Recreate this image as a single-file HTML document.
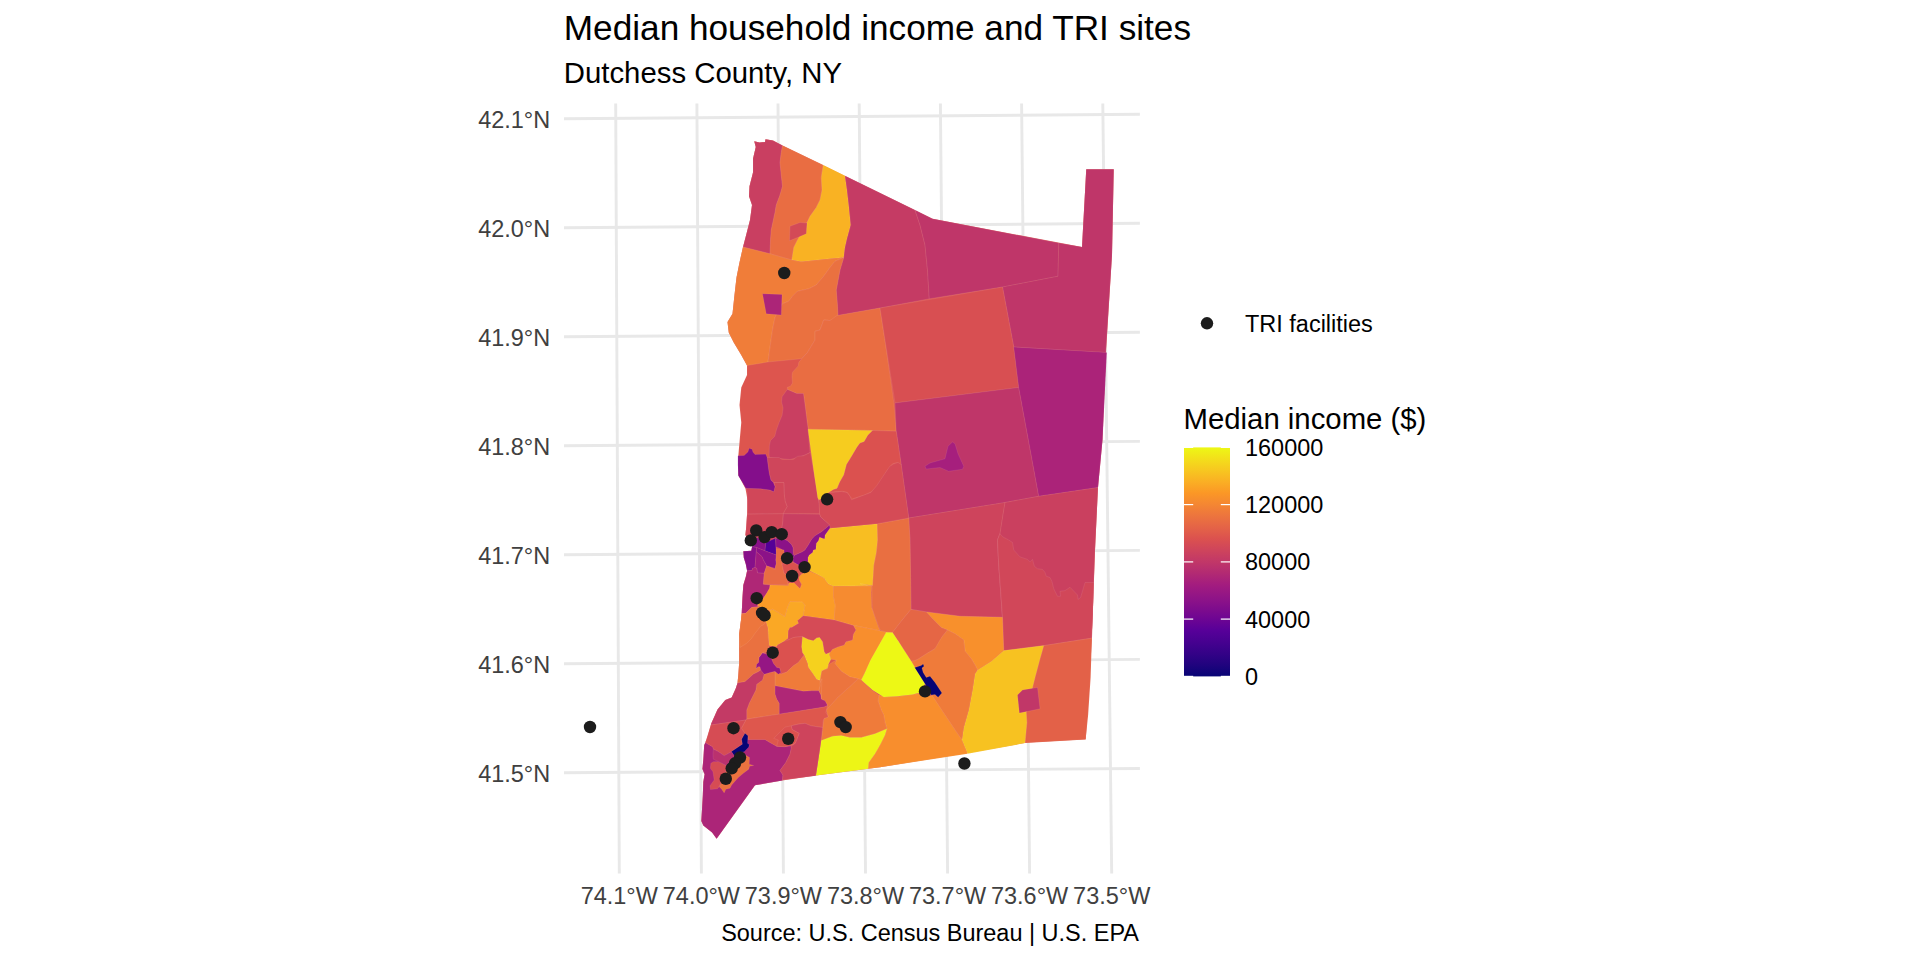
<!DOCTYPE html>
<html lang="en"><head><meta charset="utf-8"><title>Median household income and TRI sites</title>
<style>
html,body{margin:0;padding:0;background:#fff;}
body{width:1920px;height:960px;overflow:hidden;}
svg{display:block;font-family:"Liberation Sans",Arial,Helvetica,sans-serif;}
.ax{font-size:23.47px;fill:#404040;}
.lg{font-size:23.47px;fill:#000;}
.grid line,.grid path{stroke:#e8e8e8;stroke-width:2.9;fill:none;}
.tr polygon{stroke:#fff;stroke-opacity:.11;stroke-width:.7;stroke-linejoin:round;}
.pt circle{fill:#1c1c1c;}
</style></head><body>
<svg width="1920" height="960" viewBox="0 0 1920 960">
<rect width="1920" height="960" fill="#fff"/>
<text x="563.8" y="39.7" font-size="35.2" fill="#000">Median household income and TRI sites</text>
<text x="563.8" y="82.9" font-size="29.33" fill="#000">Dutchess County, NY</text>
<g class="grid">
<path d="M564.0 118.75Q852.0 117.70 1139.9 114.25"/>
<path d="M564.0 227.74Q852.0 226.71 1139.9 223.28"/>
<path d="M564.0 336.73Q852.0 335.72 1139.9 332.31"/>
<path d="M564.0 445.72Q852.0 444.73 1139.9 441.34"/>
<path d="M564.0 554.71Q852.0 553.74 1139.9 550.37"/>
<path d="M564.0 663.70Q852.0 662.75 1139.9 659.40"/>
<path d="M564.0 772.69Q852.0 771.76 1139.9 768.43"/>
<line x1="615.7" y1="103.5" x2="619.3" y2="873.6"/>
<line x1="696.9" y1="103.5" x2="701.4" y2="873.6"/>
<line x1="778.0" y1="103.5" x2="783.4" y2="873.6"/>
<line x1="859.2" y1="103.5" x2="865.5" y2="873.6"/>
<line x1="940.4" y1="103.5" x2="947.6" y2="873.6"/>
<line x1="1021.6" y1="103.5" x2="1029.6" y2="873.6"/>
<line x1="1102.8" y1="103.5" x2="1111.7" y2="873.6"/>
</g>
<g class="ax" text-anchor="end">
<text x="550.2" y="128.0">42.1°N</text>
<text x="550.2" y="236.9">42.0°N</text>
<text x="550.2" y="345.9">41.9°N</text>
<text x="550.2" y="454.9">41.8°N</text>
<text x="550.2" y="563.9">41.7°N</text>
<text x="550.2" y="672.9">41.6°N</text>
<text x="550.2" y="781.9">41.5°N</text>
</g>
<g class="ax" text-anchor="middle">
<text x="619.3" y="903.8">74.1°W</text>
<text x="701.4" y="903.8">74.0°W</text>
<text x="783.4" y="903.8">73.9°W</text>
<text x="865.5" y="903.8">73.8°W</text>
<text x="947.6" y="903.8">73.7°W</text>
<text x="1029.6" y="903.8">73.6°W</text>
<text x="1111.7" y="903.8">73.5°W</text>
</g>
<g class="tr">
<polygon fill="#dd554e" points="754.25,141.25 759.5,142.5 765,142 765.5,139.25 773,140.5 782.5,145.5 932.5,218.75 1082,247 1086.25,169.25 1113.75,169.25 1112,255 1106,352.5 1102.5,440 1098,487.5 1095,550 1092,637.5 1085.75,739.25 1027.5,742.5 967.5,753 880,767.2 816,775.5 782.3,780.5 755,785.2 716.6,838.8 712.1,832.6 703.3,825.5 701.3,821.1 702,809.6 702.8,795.4 703.3,782.1 704.6,774.2 702.4,768.9 703.3,760 704.2,745.3 707.3,737.5 711.25,723.4 717.5,709.4 725.3,700 731.7,697.5 735.8,688.3 737.5,682.9 738.3,675 739.2,662.5 739.2,650 739.2,634.2 740.8,621.7 741.7,613.75 742.5,596.7 743.3,585 745.8,576.7 747.1,570.8 745.8,564.2 743.75,557.5 743.3,551.25 751.25,550.8 752.1,546.7 751.25,543.3 747.9,540.4 745.4,535 746.25,526.7 747,515 747.5,500 745.5,488.75 738.25,475 738.25,456.25 739.25,445 741.25,422.5 739.5,405 741.25,387.5 747,375 747,365.5 741.25,355 733.75,342.5 728.75,332.5 727.5,322 732.5,313.75 734.5,295 736.5,277.5 739.5,262.5 743,247 745.5,237.5 750,220 752,205 749,196.25 749.5,186.25 753,172.5 753,158.75 755.75,147"/>
<polygon fill="#c93f61" points="754.25,141.25 759.50,142.50 765.00,142.00 765.50,139.25 773.00,140.50 782.50,145.50 781.25,152.50 780.00,162.50 781.25,175.00 782.50,186.25 780.00,195.00 776.25,205.00 775.00,212.50 771.25,230.00 770.50,240.00 770.00,253.75 743.00,247.00 745.50,237.50 750.00,220.00 752.00,205.00 749.00,196.25 749.50,186.25 753.00,172.50 753.00,158.75 755.75,147.00"/>
<polygon fill="#e96d42" points="782.50,145.50 823.25,165.00 821.25,177.50 822.00,190.00 820.00,200.00 816.25,207.50 810.00,216.25 807.00,222.50 797.50,240.00 793.75,247.50 791.75,260.00 770.00,253.75 770.50,240.00 771.25,230.00 775.00,212.50 776.25,205.00 780.00,195.00 782.50,186.25 781.25,175.00 780.00,162.50 781.25,152.50"/>
<polygon fill="#f9b223" points="823.25,165.00 845.00,175.75 847.00,190.00 848.75,205.00 850.75,225.00 847.00,238.75 845.00,247.50 843.75,257.50 830.00,258.75 801.25,261.75 791.75,260.00 793.75,247.50 797.50,240.00 807.00,222.50 810.00,216.25 816.25,207.50 820.00,200.00 822.00,190.00 821.25,177.50"/>
<polygon fill="#d34a57" points="790.00,226.25 800.00,222.50 807.00,223.00 806.25,233.75 797.50,237.50 789.50,240.75"/>
<polygon fill="#c53b64" points="845.00,175.75 915.00,210.00 920.00,225.00 925.00,245.00 927.50,270.00 928.75,290.00 929.25,298.75 880.00,308.00 838.00,315.50 836.25,290.00 840.00,270.00 843.75,257.50 845.00,247.50 847.00,238.75 850.75,225.00 848.75,205.00 847.00,190.00"/>
<polygon fill="#bf3669" points="915.00,210.00 932.50,218.75 1058.75,243.00 1058.00,276.25 1002.50,287.00 929.25,298.75 928.75,290.00 927.50,270.00 925.00,245.00 920.00,225.00"/>
<polygon fill="#bf3669" points="1058.75,243.00 1082.00,247.00 1086.25,169.25 1113.75,169.25 1112.00,255.00 1105.75,352.50 1013.75,347.00 1002.50,287.00 1058.00,276.25"/>
<polygon fill="#f07d39" points="743.00,247.00 770.00,253.75 791.75,260.00 801.25,261.75 830.00,258.75 843.75,257.50 835.00,261.25 830.00,267.50 823.75,276.25 816.25,285.00 808.75,288.75 797.50,291.25 792.50,296.25 788.75,301.25 782.50,303.75 778.75,310.00 775.00,317.50 772.50,330.00 770.00,347.50 768.00,362.00 747.00,365.50 741.25,355.00 733.75,342.50 728.75,332.50 727.50,322.00 732.50,313.75 734.50,295.00 736.50,277.50 739.50,262.50"/>
<polygon fill="#ea7140" points="843.75,257.50 840.00,270.00 836.25,290.00 837.50,305.00 838.00,318.75 830.00,320.50 823.75,320.00 820.00,330.00 815.00,331.25 815.00,340.00 807.50,352.50 801.25,358.75 768.00,362.00 770.00,347.50 772.50,330.00 775.00,317.50 778.75,310.00 782.50,303.75 788.75,301.25 792.50,296.25 797.50,291.25 808.75,288.75 816.25,285.00 823.75,276.25 830.00,267.50 835.00,261.25"/>
<polygon fill="#ac2578" points="762.50,293.75 782.00,294.50 781.25,315.00 766.25,313.75"/>
<polygon fill="#e96d42" points="837,315.5 880,308 885.00,340.00 893.75,402.50 896.25,431.25 872.50,430.50 808.00,429.25 808.1,429 807.1,421.7 805,405 803.4,393.5 796.7,393.5 787.3,389.4 787.3,387.3 790.4,386.25 792.5,383.1 792,375.8 792.5,372.2 798.2,365.9 798.75,362.3 801.9,358.6 807.50,352.50 815.00,340.00 815.00,331.25 820.00,330.00 823.75,320.00 830.00,320.50"/>
<polygon fill="#d84f52" points="880,308 1002.5,287 1013.75,347.00 1018.75,387.50 895.00,403.00 885.00,340.00"/>
<polygon fill="#bf3669" points="895.00,403.00 1018.75,387.50 1038.75,496.25 1005.00,502.50 908.75,518.00 901.25,465.00 896.25,431.25"/>
<polygon fill="#a61f7d" points="925.00,466.25 930.00,463.00 945.00,458.75 948.00,446.25 952.50,442.00 955.00,443.75 958.00,453.75 963.75,466.25 962.50,469.25 948.75,471.25 940.00,467.50 926.25,469.00"/>
<polygon fill="#ab2379" points="1013.75,347.00 1106.75,352.50 1102.50,440.00 1098.00,487.50 1038.75,496.25 1018.75,387.50"/>
<polygon fill="#c93f61" points="787.3,389.4 796.7,393.5 803.4,393.5 805,405 807.1,421.7 808.1,429 810.00,452.50 805.00,455.00 797.50,457.50 790.00,459.50 782.50,458.75 769.50,457.50 769.1,455 769.4,445.6 770.6,440.4 774.8,436.25 776.4,430 779,422.7 782.1,415.4 783.1,408.1 781.6,401.9 782.1,396.7"/>
<polygon fill="#db514f" points="872.50,430.50 896.25,431.25 901.25,465.00 897.50,462.50 892.50,463.75 887.50,470.00 882.50,478.75 877.50,486.25 872.50,491.25 865.00,495.00 852.50,498.75 850.75,497.50 847.50,492.50 842.50,491.25 835.00,491.75 828.6,492.5 833.3,489.4 837,488.3 839.6,482.1 843.75,474.8 846.4,464.4 851,457.1 856.8,447.2 859.9,443 864.1,441.5 867.7,435.2 871.9,431"/>
<polygon fill="#ce445c" points="908.75,518 1005,502.5 1000,533.75 997.50,540.00 998.75,565.00 1000.62,590.00 1002.50,617.25 960.00,616.25 926.25,611.88 911.00,609.38 910.62,577.50 910.00,540.00"/>
<polygon fill="#ca405f" points="1005,502.5 1038.75,496.25 1098,487.5 1095,550 1093.75,582.50 1092.75,615.00 1091.62,638.12 1043.75,645.62 1003.75,650.62 1002.50,617.25 1000.62,590.00 998.75,565.00 997.50,540.00 1000,533.75"/>
<polygon fill="#d14759" points="1000,533.75 1003,537 1008.75,540.00 1012.50,542.50 1013.75,550.00 1020.00,556.88 1027.50,559.38 1030.00,561.88 1032.50,559.38 1034.38,566.25 1037.50,568.75 1042.50,569.38 1045.00,572.50 1046.25,576.25 1050.00,577.50 1051.88,581.25 1053.75,588.75 1057.50,596.25 1060.62,596.25 1060.00,591.25 1065.00,590.62 1070.00,587.25 1077.50,595.00 1078.12,599.38 1080.62,597.50 1085.00,582.50 1093.75,582.50 1092.75,615.00 1091.62,638.12 1043.75,645.62 1003.75,650.62 1002.50,617.25 1000.62,590.00 998.75,565.00 997.50,540.00"/>
<polygon fill="#e36148" points="1043.75,645.62 1091.88,638.12 1090.62,677.50 1088.12,715.00 1085.62,739.38 1025.00,743.12 1026.88,722.50 1026.25,712.50 1032.50,687.50 1035.00,677.50 1040.00,658.75"/>
<polygon fill="#f7c221" points="1003.75,650.62 1043.75,645.62 1040.00,658.75 1035.00,677.50 1032.50,687.50 1026.25,712.50 1026.88,722.50 1025.00,743.12 967.50,753.75 961.88,740.00 963.75,727.50 968.75,710.00 972.50,690.00 975.00,673.75 977.50,670.00 991.25,661.25"/>
<polygon fill="#c13768" points="1017.50,695.00 1022.50,690.00 1037.50,687.50 1040.00,708.75 1019.38,713.12"/>
<polygon fill="#f8902c" points="926.25,611.88 960.00,616.25 1002.50,617.25 1003.75,650.62 991.25,661.25 977.50,670.00 975.00,665.00 971.25,658.75 965.00,651.25 963.75,640.00 963.75,640.00 955.00,633.75 947.50,630.00 941.25,627.50 935.00,621.25"/>
<polygon fill="#e96f41" points="877.1,523.75 908.75,518 910.00,540.00 910.62,577.50 911.00,609.38 901.25,621.25 892.50,632.50 886.25,632.25 880.00,630.00 876.25,620.00 872.50,610.00 871.88,590.00 873.75,565.00 876.25,552.50 877.50,540.00"/>
<polygon fill="#f8be22" points="829.58,528.33 877.08,523.75 877.50,540.00 876.25,552.50 873.75,565.00 872.50,585.62 860.00,583.75 871.67,585.83 833.33,586.25 828.33,584.17 825.00,580.00 824.17,578.33 818.33,575.00 811.67,571.67 808.33,570.00 807.92,561.67 807.92,557.50 809.17,555.00 812.50,552.50 813.33,550.00 815.83,549.17 816.25,543.33 818.33,540.83 819.58,537.08 822.50,538.33 824.58,538.75 825.00,535.00 830.00,527.92"/>
<polygon fill="#e56645" points="911.00,609.38 926.25,611.88 935.00,621.25 941.25,627.50 947.50,630.00 942.50,636.25 938.75,645.00 935.00,648.75 927.50,653.12 918.75,658.75 915.00,660.62 911.25,661.25 897.50,640.00 901.25,647.50 892.50,632.50 901.25,621.25"/>
<polygon fill="#ef7b3a" points="947.50,630.00 955.00,633.75 963.75,640.00 963.75,640.00 965.00,651.25 971.25,658.75 975.00,665.00 977.50,670.00 975.00,673.75 972.50,690.00 968.75,710.00 963.75,727.50 961.88,740.00 955.00,730.00 942.50,711.25 932.50,696.88 925.00,683.75 915.00,668.12 911.25,661.25 915.00,660.62 918.75,658.75 927.50,653.12 935.00,648.75 940.00,640.00 942.50,636.25"/>
<polygon fill="#f68b30" points="833.33,586.25 871.67,585.83 871.25,592.50 871.67,607.50 875.00,617.50 878.33,626.67 880.00,630.83 853.33,625.42 834.17,620.00 835.00,605.00 833.33,596.67"/>
<polygon fill="#f88e2d" points="853.33,625.42 880.00,630.83 885.83,632.08 886.25,632.25 876.25,652.50 865.00,672.50 861.25,680.00 858.12,678.75 850.00,676.88 841.25,671.25 835.00,663.75 836.25,660.00 830.83,659.17 829.17,654.17 830.00,652.50 832.50,649.17 838.33,646.67 844.17,645.00 845.83,641.67 852.50,640.00 853.33,634.17 855.83,630.00"/>
<polygon fill="#f88e2d" points="878.75,695.00 885.00,696.88 900.00,696.25 912.50,694.38 920.00,693.12 925.00,695.00 932.50,696.25 942.50,711.25 955.00,730.00 961.88,740.00 967.50,753.75 880,767.2 868.12,768.75 868.75,762.50 875.00,753.75 880.00,745.00 885.00,735.00 886.88,728.75 885.00,722.50 883.75,715.00 881.25,710.00 878.12,701.25"/>
<polygon fill="#edf815" points="897.50,640.00 911.25,661.25 915.00,667.50 925.00,683.75 920.00,692.50 912.50,694.38 897.50,696.25 883.75,696.88 872.50,690.00 861.25,680.00 861.25,680.00 865.00,672.50 870.62,660.00 886.25,632.25 892.50,632.50"/>
<polygon fill="#070475" points="914.38,667.75 921.25,665.62 923.12,664.00 924.00,666.25 921.88,668.12 923.12,672.50 926.25,677.50 930.00,676.25 935.00,682.50 941.88,693.12 938.12,697.25 935.00,694.38 931.25,695.00 925.00,683.75 915.00,668.12"/>
<polygon fill="#ef7b3a" points="858.12,678.75 861.25,680.00 871.25,690.00 878.75,695.00 878.12,701.25 881.25,710.00 883.75,715.00 885.00,722.50 886.88,728.75 875.00,733.75 861.25,737.50 850.00,737.50 841.25,735.62 832.50,736.25 821.25,740.62 823.12,725.00 823.75,718.75 828.12,716.88 826.25,710.00 837.50,697.50 850.00,686.25"/>
<polygon fill="#edf516" points="821.25,740.62 832.50,736.25 841.25,735.62 850.00,737.50 861.25,737.50 875.00,733.75 886.88,728.75 885.00,735.00 880.00,745.00 875.00,753.75 868.75,762.50 868.12,768.75 816.00,775.62 818.75,757.50"/>
<polygon fill="#ec743e" points="821.25,671.25 830.00,663.75 836.25,660.00 835.00,663.75 841.25,671.25 850.00,676.88 858.12,678.75 850.00,686.25 837.50,697.50 826.25,710.00 826.88,703.75 820.00,697.50 818.75,690.62 818.75,685.00 821.88,678.75 821.25,699.17 820.83,695.00 818.75,690.83 820.00,685.83 820.00,680.42 820.83,675.00 821.67,670.83 827.50,668.33 828.33,664.17 830.83,659.17"/>
<polygon fill="#cf465b" points="767.08,457.50 768.33,457.50 779.17,457.50 782.08,459.58 793.33,459.58 797.50,456.25 803.33,455.83 810.42,452.50 812.08,461.67 814.17,473.33 816.67,486.67 818.33,498.33 819.17,503.33 819.58,513.75 783.33,513.75 784.17,511.67 787.08,506.67 785.00,500.83 784.17,493.33 783.75,482.50 774.17,482.50 770.83,480.00 769.17,473.33 767.92,464.17"/>
<polygon fill="#d14759" points="745.83,487.92 760.83,488.75 770.00,490.00 773.75,491.67 775.00,486.67 774.17,482.50 783.75,482.50 784.17,493.33 785.00,500.83 787.08,506.67 784.17,511.67 783.33,513.75 747.50,514.17 747.08,491.67"/>
<polygon fill="#840e8b" points="737.92,455.83 744.17,455.42 747.92,452.08 749.17,448.33 752.08,449.17 752.92,452.08 755.00,454.58 765.83,454.17 767.08,457.50 767.92,464.17 769.17,473.33 770.83,480.00 773.33,482.50 775.00,486.67 773.75,491.67 770.00,490.00 760.83,488.75 745.83,488.33 742.50,482.50 738.33,475.83 737.92,465.00"/>
<polygon fill="#d54b56" points="818.75,499.8 820.8,499.3 828.6,492.5 831.25,492.5 841.7,491.5 846.9,492.5 849.5,495.6 851.6,499.8 858.3,497.2 870.8,492.5 877.1,485.2 883.3,475.8 889.6,466.5 893.75,463.9 897.9,462.5 900.5,463.9 901.25,465 908.75,518 877.08,523.75 829.58,528.33 829.58,525.00 820.42,516.67 819.58,514.17 819.17,503.33"/>
<polygon fill="#f6cc1f" points="808.00,429.25 872.50,430.50 871.9,431 867.7,435.2 864.1,441.5 859.9,443 856.8,447.2 851,457.1 846.4,464.4 843.75,474.8 839.6,482.1 837,488.3 833.3,489.4 828.6,492.5 820.8,499.3 818.75,499.8 817.7,497.7 814.6,476.9 810.9,450.8"/>
<polygon fill="#d14759" points="747.08,514.17 783.33,513.75 782.92,520.83 782.08,526.67 780.00,530.83 778.33,538.33 765.83,542.50 757.08,537.50 746.67,536.67 745.42,535.00 746.25,526.67"/>
<polygon fill="#c93f61" points="783.33,513.75 819.58,514.17 820.42,516.67 829.58,525.00 826.67,527.50 821.67,531.67 815.00,535.83 811.67,539.17 808.33,545.00 805.00,550.00 802.50,551.67 794.17,555.42 793.33,554.17 792.92,547.50 791.25,544.17 787.50,540.83 784.17,539.17 778.33,538.33 780.00,530.83 782.08,526.67 782.92,520.83"/>
<polygon fill="#901486" points="829.58,525.00 830.00,527.92 825.00,535.00 824.58,538.75 822.50,538.33 819.58,537.08 818.33,540.83 816.25,543.33 815.83,549.17 813.33,550.00 812.50,552.50 809.17,555.00 807.92,557.50 807.92,561.67 805.00,563.33 799.17,565.42 793.33,562.08 792.92,559.17 794.17,555.42 802.50,551.67 805.00,550.00 808.33,545.00 811.67,539.17 815.00,535.83 821.67,531.67 826.67,527.50"/>
<polygon fill="#8b1288" points="775.83,538.33 784.17,539.17 787.50,540.83 791.25,544.17 792.92,547.50 793.33,554.17 794.17,555.42 792.92,559.17 788.33,556.67 784.58,553.33 784.17,551.67 782.08,549.58 779.17,547.92 775.83,546.67"/>
<polygon fill="#8b1288" points="757.08,537.50 765.83,542.50 765.00,550.83 756.67,547.50 752.08,546.67 751.25,543.33"/>
<polygon fill="#540097" points="765.83,542.50 775.42,538.33 775.83,546.67 776.25,555.00 771.67,553.33 765.00,550.83"/>
<polygon fill="#87108a" points="743.33,551.25 751.25,550.83 752.08,546.67 756.67,547.50 756.25,551.67 755.00,567.50 752.50,568.33 752.08,570.42 747.08,570.83 745.83,564.17 743.75,557.50"/>
<polygon fill="#8b1288" points="756.67,547.50 765.00,550.83 771.67,553.33 776.25,555.00 775.83,560.00 776.25,563.33 775.00,568.33 766.67,565.83 763.33,560.00 762.08,556.67 756.25,551.67"/>
<polygon fill="#a01b80" points="756.25,551.67 762.08,556.67 763.33,560.00 766.67,565.83 764.17,573.33 757.50,572.92 756.67,568.33 755.00,567.50"/>
<polygon fill="#af2776" points="747.08,570.83 752.08,570.42 752.50,568.33 755.00,567.50 756.67,568.33 757.50,572.92 764.17,573.33 763.33,584.17 763.33,584.17 770.00,585.00 769.58,588.33 766.67,593.33 763.33,598.33 757.50,605.00 758.33,606.67 751.67,607.50 745.83,613.33 741.67,613.75 742.50,596.67 743.33,585.00 745.83,576.67"/>
<polygon fill="#e86c43" points="776.25,548.75 784.17,550.00 783.33,555.00 781.67,560.00 782.08,564.17 783.33,570.00 784.17,573.33 786.67,575.00 788.33,585.00 763.33,584.17 764.17,573.33 766.67,565.83 775.00,569.58 776.25,563.33 775.83,560.00 776.25,555.00"/>
<polygon fill="#db514f" points="782.08,564.17 793.33,562.50 799.17,565.42 800.83,571.67 801.67,574.17 799.17,576.67 800.42,582.50 801.67,585.00 800.00,588.75 794.17,584.17 788.33,585.00 786.67,575.00 784.17,573.33 783.33,570.00"/>
<polygon fill="#fb9c26" points="799.17,576.67 801.67,574.17 808.33,570.83 818.33,575.00 824.17,578.33 825.00,580.00 828.33,584.17 833.33,586.25 833.33,596.67 835.00,605.00 834.17,620.00 803.33,615.83 803.75,611.67 805.00,605.00 802.50,602.08 790.00,601.67 787.50,607.50 785.00,616.67 772.50,609.17 770.00,610.42 763.33,609.17 757.50,605.00 763.33,598.33 766.67,593.33 769.58,588.33 770.00,585.00 788.33,585.42 788.75,582.92 794.17,582.92 800.00,588.75 801.67,584.17 799.17,580.00"/>
<polygon fill="#faa825" points="790.00,601.67 802.50,602.08 805.00,605.00 803.75,611.67 803.33,615.83 797.50,620.83 798.75,623.33 791.67,627.50 790.00,627.50 788.33,630.83 787.92,638.33 783.33,641.67 777.50,645.00 776.67,646.67 769.17,645.83 768.33,638.33 767.92,628.33 765.83,621.67 770.00,610.42 772.50,609.17 785.00,616.67 787.50,607.50"/>
<polygon fill="#ea7140" points="741.67,613.75 745.83,613.33 751.67,607.50 758.33,606.67 757.50,605.00 763.33,609.17 770.00,610.42 765.83,621.67 767.92,628.33 768.33,638.33 769.17,645.83 767.50,651.67 762.50,653.33 759.17,657.50 762.50,652.92 759.17,657.50 758.75,662.50 756.67,664.17 756.25,668.75 757.92,666.67 760.00,666.67 760.83,670.00 758.33,671.67 753.33,674.17 745.00,681.67 737.50,682.92 738.33,675.00 739.17,662.50 739.17,650.00 739.17,634.17 740.83,621.67"/>
<polygon fill="#ed763d" points="741.67,613.75 745.83,613.33 751.67,607.50 758.33,606.67 757.50,605.00 763.33,609.17 770.00,610.42 765.83,621.67 763.33,625.00 760.83,625.83 758.33,629.17 755.00,633.33 751.67,638.33 746.67,643.33 740.00,647.50 739.17,634.17 740.83,621.67"/>
<polygon fill="#d54b56" points="803.33,615.83 834.17,620.00 853.33,625.42 855.83,630.00 853.33,634.17 852.50,640.00 845.83,641.67 844.17,645.00 838.33,646.67 832.50,649.17 830.00,652.50 825.83,654.17 824.17,651.67 822.50,641.67 819.58,637.50 816.67,637.92 813.33,640.83 808.33,639.58 802.50,636.67 800.83,636.67 793.33,637.50 788.33,640.00 787.92,638.33 788.33,630.83 790.00,627.50 791.67,627.50 798.75,623.33 797.50,620.83"/>
<polygon fill="#db514f" points="777.50,645.00 783.33,641.67 788.33,640.00 793.33,637.50 800.83,636.67 802.50,636.67 801.67,646.67 802.50,652.50 804.17,655.00 798.33,662.50 793.33,665.83 786.67,672.08 780.83,674.17 780.83,672.50 779.58,667.92 776.67,667.50 773.33,663.33 771.67,659.17 766.67,654.17 762.50,652.92 767.50,651.67 769.17,645.83 776.67,646.67"/>
<polygon fill="#f5d11e" points="802.50,636.67 808.33,639.58 813.33,640.83 816.67,637.92 819.58,637.50 822.50,641.67 824.17,651.67 825.83,654.17 830.00,652.50 829.17,654.17 830.83,659.17 828.33,664.17 827.50,668.33 821.67,670.83 820.83,675.00 820.00,680.42 816.67,679.58 812.50,673.33 808.33,667.50 807.50,663.33 804.17,655.00 802.50,652.50 801.67,646.67"/>
<polygon fill="#ef7b3a" points="804.17,655.00 807.50,663.33 808.33,667.50 812.50,673.33 816.67,679.58 820.00,680.42 820.00,685.83 818.75,690.83 811.67,690.83 803.33,691.25 775.00,685.83 775.00,671.67 780.83,674.17 786.67,672.08 793.33,665.83 798.33,662.50"/>
<polygon fill="#af2776" points="775.00,685.83 803.33,691.25 811.67,690.83 818.75,690.83 820.83,695.00 821.25,699.17 825.00,700.83 827.50,705.42 824.17,707.08 779.17,714.17 779.17,703.33 776.67,699.17 775.00,694.17"/>
<polygon fill="#e86c43" points="764.17,674.17 770.00,672.50 775.00,671.25 775.00,685.83 775.00,694.17 776.67,699.17 779.17,703.33 779.17,714.17 746.67,719.17 746.67,710.00 749.17,703.33 753.33,695.00 755.83,690.00 756.67,684.17 759.17,682.50 762.50,680.00 763.33,676.67"/>
<polygon fill="#c33a65" points="760.83,670.00 764.17,674.17 763.33,676.67 762.50,680.00 759.17,682.50 756.67,684.17 755.83,690.00 753.33,695.00 749.17,703.33 746.67,710.00 746.67,719.17 745.83,720.00 710.83,725.00 707.50,735.83 705.42,742.50 711.25,723.4 717.5,709.4 725.3,700 731.67,697.50 735.83,688.33 737.50,682.92 745.00,681.67 753.33,674.17 758.33,671.67"/>
<polygon fill="#951684" points="762.50,652.92 766.67,654.17 771.67,659.17 773.33,663.33 776.67,667.50 779.58,667.92 780.83,672.50 778.33,674.17 775.00,671.25 770.00,672.50 764.17,674.17 760.83,670.00 760.00,666.67 757.92,666.67 756.25,668.75 756.67,664.17 758.75,662.50 759.17,657.50"/>
<polygon fill="#ac2578" points="705.42,742.50 712.50,746.67 748.33,739.58 765.00,739.58 770.00,742.50 776.67,746.25 784.17,746.67 790.83,745.83 791.25,748.33 790.00,754.17 785.83,762.50 780.00,770.42 782.92,775.00 782.50,780.00 782.3,780.5 755,785.2 716.6,838.8 712.1,832.6 703.3,825.5 701.3,821.1 702,809.6 702.8,795.4 703.3,782.1 704.6,774.2 702.4,768.9 703.3,760 704.2,745.3 707.3,737.5"/>
<polygon fill="#de574d" points="746.67,719.17 779.17,714.17 824.17,707.08 827.50,705.42 825.83,712.50 828.33,716.67 824.17,718.33 823.33,720.00 822.50,727.50 810.83,725.83 805.00,723.33 798.33,724.17 791.25,725.83 792.08,729.58 799.17,733.33 795.42,742.92 790.00,745.83 784.17,746.67 776.67,746.25 770.00,742.50 765.00,739.58 748.33,739.58 747.92,735.83 745.00,733.33 741.25,728.33 745.83,720.00"/>
<polygon fill="#ce445c" points="791.25,745.83 793.33,745.00 795.42,742.92 799.17,733.33 792.08,729.58 791.25,725.83 798.33,724.17 805.00,723.33 810.83,725.83 822.50,727.50 821.67,735.83 820.00,748.33 817.50,765.00 815.83,775.83 782.50,780.00 782.92,775.00 780.00,770.42 785.83,762.50 790.00,754.17 791.25,748.33"/>
<polygon fill="#db514f" points="773.75,738.33 785.00,727.08 791.25,725.83 792.08,729.58 799.17,733.33 795.42,742.92 790.00,745.83 784.17,746.67 776.67,746.25 778.33,740.00"/>
<polygon fill="#d64c54" points="710.83,725.00 745.83,720.00 741.25,728.33 745.00,733.33 741.67,739.17 742.50,744.17 731.67,751.67 724.17,755.83 718.33,751.67 713.33,749.17 712.50,746.67 705.42,742.50 707.50,735.83"/>
<polygon fill="#070475" points="745.00,733.33 747.92,735.83 747.50,743.33 749.17,744.58 748.75,747.08 744.17,751.67 740.00,752.50 734.17,755.83 731.25,751.67 742.50,744.17 741.67,739.17"/>
<polygon fill="#ba316e" points="713.33,749.17 718.33,751.67 724.17,755.83 731.67,751.67 734.17,755.83 733.33,759.17 729.17,761.67 726.67,765.83 718.33,761.67 713.33,759.17 712.92,755.00"/>
<polygon fill="#d64c54" points="713.33,761.67 718.33,761.67 726.67,765.83 725.83,771.67 723.33,775.00 721.67,781.67 719.17,786.67 717.50,788.75 710.42,789.58 710.00,785.83 714.17,780.00 712.92,771.67 710.42,768.33 710.83,763.33"/>
<polygon fill="#eb723f" points="744.17,754.17 749.58,757.50 749.17,764.17 753.75,765.42 749.58,766.25 748.75,769.17 743.33,773.33 738.33,777.50 731.67,785.00 730.00,788.33 725.83,789.17 724.17,792.92 721.67,789.17 719.17,786.67 721.67,781.67 723.33,775.00 725.83,771.67 729.17,768.33 736.67,761.67 741.67,756.67"/>
</g>
<g class="pt">
<circle cx="784.25" cy="273" r="6.2"/>
<circle cx="827.1" cy="499.3" r="6.2"/>
<circle cx="756.25" cy="530.4" r="6.2"/>
<circle cx="750.8" cy="540.4" r="6.2"/>
<circle cx="764.6" cy="537.1" r="6.2"/>
<circle cx="771.7" cy="532.1" r="6.2"/>
<circle cx="781.7" cy="534.2" r="6.2"/>
<circle cx="787.1" cy="558.2" r="6.2"/>
<circle cx="804.6" cy="567.1" r="6.2"/>
<circle cx="792.1" cy="576" r="6.2"/>
<circle cx="756.7" cy="598.2" r="6.2"/>
<circle cx="762.1" cy="612.9" r="6.2"/>
<circle cx="764.6" cy="615.4" r="6.2"/>
<circle cx="772.7" cy="652.7" r="6.2"/>
<circle cx="733.5" cy="728.2" r="6.2"/>
<circle cx="788.2" cy="738.75" r="6.2"/>
<circle cx="740" cy="757.5" r="6.2"/>
<circle cx="735" cy="763.3" r="6.2"/>
<circle cx="731.7" cy="768.3" r="6.2"/>
<circle cx="725.8" cy="778.75" r="6.2"/>
<circle cx="840.4" cy="722.1" r="6.2"/>
<circle cx="845.7" cy="727.1" r="6.2"/>
<circle cx="925" cy="691.4" r="6.2"/>
<circle cx="964.4" cy="763.5" r="6.2"/>
<circle cx="590" cy="727" r="6.2"/>
</g>
<circle cx="1207" cy="323.3" r="6.2" fill="#1c1c1c"/>
<text class="lg" x="1245" y="332">TRI facilities</text>
<text x="1183.5" y="428.7" font-size="29.33" fill="#000">Median income ($)</text>
<defs><linearGradient id="pl" x1="0" y1="1" x2="0" y2="0"><stop offset="0" stop-color="#070475"/><stop offset="0.05" stop-color="#20037e"/><stop offset="0.1" stop-color="#340287"/><stop offset="0.15" stop-color="#460190"/><stop offset="0.2" stop-color="#570099"/><stop offset="0.25" stop-color="#6d0593"/><stop offset="0.3" stop-color="#800d8c"/><stop offset="0.35" stop-color="#921586"/><stop offset="0.4" stop-color="#a31c7f"/><stop offset="0.45" stop-color="#b22a73"/><stop offset="0.5" stop-color="#c13768"/><stop offset="0.55" stop-color="#ce445c"/><stop offset="0.6" stop-color="#db514f"/><stop offset="0.65" stop-color="#e46347"/><stop offset="0.7" stop-color="#ec743e"/><stop offset="0.75" stop-color="#f48633"/><stop offset="0.8" stop-color="#fb9726"/><stop offset="0.85" stop-color="#faaf24"/><stop offset="0.9" stop-color="#f7c720"/><stop offset="0.95" stop-color="#f3df1b"/><stop offset="1" stop-color="#edf815"/></linearGradient></defs>
<rect x="1184" y="447.4" width="46" height="229" fill="url(#pl)"/>
<g stroke="#fff" stroke-width="1.2">
<line x1="1184" y1="447.4" x2="1193.2" y2="447.4"/><line x1="1220.8" y1="447.4" x2="1230" y2="447.4"/>
<line x1="1184" y1="504.6" x2="1193.2" y2="504.6"/><line x1="1220.8" y1="504.6" x2="1230" y2="504.6"/>
<line x1="1184" y1="561.9" x2="1193.2" y2="561.9"/><line x1="1220.8" y1="561.9" x2="1230" y2="561.9"/>
<line x1="1184" y1="619.1" x2="1193.2" y2="619.1"/><line x1="1220.8" y1="619.1" x2="1230" y2="619.1"/>
<line x1="1184" y1="676.4" x2="1193.2" y2="676.4"/><line x1="1220.8" y1="676.4" x2="1230" y2="676.4"/>
</g>
<g class="lg">
<text x="1245" y="455.9">160000</text>
<text x="1245" y="513.2">120000</text>
<text x="1245" y="570.4">80000</text>
<text x="1245" y="627.7">40000</text>
<text x="1245" y="684.9">0</text>
</g>
<text class="lg" x="1139" y="941.1" text-anchor="end">Source: U.S. Census Bureau | U.S. EPA</text>
</svg></body></html>
